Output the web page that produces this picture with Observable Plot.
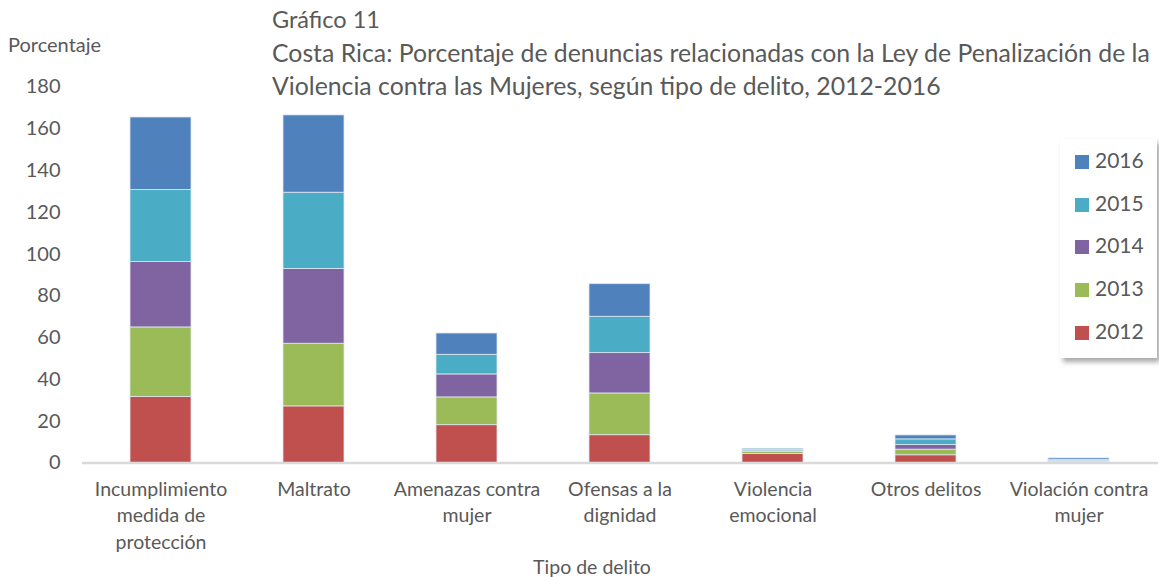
<!DOCTYPE html>
<html>
<head>
<meta charset="utf-8">
<script src="https://cdn.jsdelivr.net/npm/d3@7"></script>
<script src="https://cdn.jsdelivr.net/npm/@observablehq/plot@0.6"></script>
<style>
  html, body { margin: 0; padding: 0; background: #fff; }
  #wrap { position: relative; width: 1159px; height: 577px; font-family: Lato, "Open Sans", sans-serif; color: #595959; overflow: hidden; }
  #chart { position: absolute; left: 0; top: 0; }
  .abs { position: absolute; white-space: nowrap; }
  #title { left: 272px; top: 2px; font-size: 24.8px; line-height: 33px; }
  #title .l1 { font-size: 23.5px; }
  #ylab { left: 8px; top: 32px; font-size: 20px; }
  #xlab { left: 592px; top: 555px; font-size: 19.5px; transform: translateX(-50%); }
  #legend { left: 1060px; top: 139px; width: 97px; height: 219px; background: #fff; box-shadow: 3px 4px 5px rgba(0,0,0,0.35); }
  .li { position: absolute; left: 15px; height: 24px; font-size: 21px; line-height: 24px; }
  .sw { display: inline-block; width: 14px; height: 14px; margin-right: 6px; vertical-align: -1px; }
</style>
</head>
<body>
<div id="wrap">
  <div id="chart"></div>
  <div id="title" class="abs"><span class="l1">Gráfico 11</span><br>Costa Rica: Porcentaje de denuncias relacionadas con la Ley de Penalización de la<br>Violencia contra las Mujeres, según tipo de delito, 2012-2016</div>
  <div id="ylab" class="abs">Porcentaje</div>
  <div id="xlab" class="abs">Tipo de delito</div>
  <div id="legend" class="abs"></div>
</div>
<script>
const categories = [
  "Incumplimiento\nmedida de\nprotección",
  "Maltrato",
  "Amenazas contra\nmujer",
  "Ofensas a la\ndignidad",
  "Violencia\nemocional",
  "Otros delitos",
  "Violación contra\nmujer"
];
const years = ["2012", "2013", "2014", "2015", "2016"];
const v2012 = [31.6, 27.1, 18.1, 13.3, 4.3, 3.7, 0.3];
const v2013 = [33.3, 30.0, 13.3, 20.0, 1.0, 2.7, 0.4];
const v2014 = [31.3, 35.8, 11.0, 19.3, 0.3, 2.2, 0.2];
const v2015 = [34.5, 36.5, 9.4, 17.4, 0.6, 2.7, 0.5];
const v2016 = [34.7, 37.0, 10.2, 15.6, 0.6, 1.9, 0.8];
const yTicks = [0, 20, 40, 60, 80, 100, 120, 140, 160, 180];
const colors = ["#C0504D", "#9BBB59", "#8064A2", "#4BACC6", "#4F81BD"];

const series = [v2012, v2013, v2014, v2015, v2016];
const data = [];
categories.forEach((c, i) => {
  years.forEach((y, j) => data.push({cat: c, year: y, value: series[j][i]}));
});

const chart = Plot.plot({
  width: 1159,
  height: 577,
  marginLeft: 82,
  marginRight: 1,
  marginTop: 86.5,
  marginBottom: 114.5,
  style: {fontFamily: "Lato, 'Open Sans', sans-serif", color: "#595959", background: "white"},
  x: {domain: categories, paddingInner: 0.6, paddingOuter: 0.3, label: null},
  y: {domain: [0, 180], label: null},
  color: {domain: years, range: colors},
  marks: [
    Plot.axisY({ticks: yTicks, tickSize: 0, tickPadding: 22, fontSize: 20, label: null}),
    Plot.axisX({tickSize: 0, tickPadding: 14, fontSize: 19.5, lineHeight: 1.36, label: null}),
    Plot.barY(data, Plot.stackY({x: "cat", y: "value", fill: "year", stroke: "#dfe6f0", strokeWidth: 0.8})),
    Plot.ruleY([0], {stroke: "#d9d9d9", strokeWidth: 2.5})
  ]
});
document.getElementById("chart").appendChild(chart);

const legend = document.getElementById("legend");
years.slice().reverse().forEach((y, k) => {
  const d = document.createElement("div");
  d.className = "li";
  d.style.top = (9 + k * 42.7) + "px";
  const sw = document.createElement("span");
  sw.className = "sw";
  sw.style.background = colors[years.indexOf(y)];
  d.appendChild(sw);
  d.appendChild(document.createTextNode(y));
  legend.appendChild(d);
});
</script>
</body>
</html>
